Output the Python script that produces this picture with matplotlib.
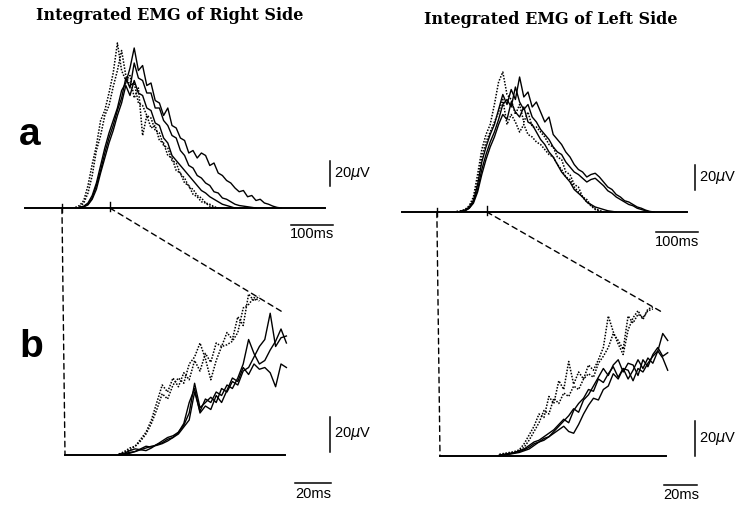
import numpy as np
import matplotlib
matplotlib.use('Agg')
import matplotlib.pyplot as plt
from matplotlib.patches import ConnectionPatch

# --- integrated EMG traces (time in ms, amplitude in microvolts) ---
# panel a: whole burst, sampled every 10 ms
A_STEP = 10
ar_dotted = [
    (120, [0.5, 2, 6, 18, 35, 50, 70, 78, 92, 108, 132, 110, 102, 106, 88, 96, 58, 74, 64, 66,
           54, 52, 42, 40, 30, 28, 20, 18, 11, 9, 5, 4, 1.5, 0.5, 0]),
    (130, [1, 4, 12, 26, 46, 58, 74, 82, 97, 110, 126, 106, 98, 100, 84, 82, 74, 72, 62, 60,
           50, 48, 38, 36, 27, 24, 17, 15, 10, 8, 4, 3, 1, 0]),
]
ar_solid = [
    (130, [0.5, 1.5, 4, 10, 20, 34, 48, 60, 70, 80, 94, 100, 112, 128, 110, 114, 98, 100, 86, 84,
           74, 80, 66, 64, 56, 54, 44, 46, 40, 44, 42, 34, 36, 28, 26, 22, 20, 16, 13, 14,
           9, 10, 6, 7, 4, 3, 1.5, 0.5, 0]),
    (130, [0.5, 1, 3, 8, 18, 30, 44, 56, 66, 78, 88, 104, 96, 116, 104, 102, 92, 92, 80, 80,
           70, 66, 58, 56, 46, 42, 34, 32, 26, 24, 20, 18, 13, 12, 8, 7, 5, 3, 2, 1.5, 1, 0.5, 0]),
    (130, [0.5, 1, 2.5, 7, 15, 28, 40, 52, 62, 74, 84, 98, 90, 102, 92, 90, 80, 78, 68, 66,
           56, 52, 42, 38, 34, 30, 26, 22, 18, 14, 12, 9, 7, 5, 3, 2, 1, 0]),
]
al_dotted = [
    (130, [0.5, 1, 2, 5, 12, 30, 50, 62, 70, 86, 104, 112, 94, 90, 78, 86, 72, 80, 68, 68,
           64, 60, 54, 52, 44, 42, 32, 30, 22, 20, 12, 10, 5, 3, 1, 0]),
    (140, [0.5, 1.5, 4, 10, 24, 44, 56, 64, 72, 80, 90, 70, 78, 72, 64, 70, 62, 60, 56, 54,
           50, 46, 44, 38, 34, 28, 26, 20, 16, 12, 8, 5, 2, 1, 0]),
]
al_solid = [
    (140, [0.5, 1.5, 4, 9, 22, 40, 52, 62, 70, 82, 94, 86, 98, 90, 108, 92, 96, 84, 88, 80,
           72, 76, 62, 58, 54, 48, 44, 38, 34, 32, 28, 30, 31, 28, 24, 20, 18, 14, 12, 9,
           8, 6, 4, 3, 1.5, 0.5, 0]),
    (140, [0.5, 1, 3, 8, 18, 34, 46, 56, 64, 74, 86, 90, 84, 100, 88, 82, 86, 76, 72, 66,
           62, 58, 52, 48, 46, 40, 36, 32, 30, 27, 24, 26, 27, 24, 21, 17, 15, 12, 10, 8,
           6, 5, 3, 2, 1, 0]),
    (140, [0.5, 1, 3, 7, 16, 30, 42, 52, 60, 70, 78, 74, 88, 80, 76, 84, 72, 70, 64, 58,
           54, 48, 44, 38, 32, 28, 24, 18, 15, 12, 8, 6, 4, 3, 2, 1, 0.5, 0]),
]

# panel b: expanded onset, sampled every 3 ms
B_STEP = 3
br_dotted = [
    (30, [0.5, 2, 4, 5, 9, 13, 20, 30, 40, 36, 44, 39, 47, 43, 54, 48, 58, 53, 64, 62,
          70, 66, 79, 74, 92, 88, 91]),
    (30, [0.5, 1.5, 3, 5, 8, 12, 18, 26, 35, 32, 40, 44, 41, 52, 56, 64, 55, 43, 54, 62,
          63, 65, 70, 84, 86, 90, 88]),
]
br_solid = [
    (30, [0.3, 0.8, 1.5, 2, 3.5, 5, 4.5, 6, 8, 10, 11, 13, 17, 24, 41, 27, 30, 33, 30, 38,
          36, 42, 40, 48, 50, 56, 62, 66, 81, 62, 67, 68]),
    (30, [0.3, 1, 2.5, 3.5, 3, 2.5, 4, 6, 7, 9, 10, 12, 16, 20, 36, 25, 32, 30, 36, 34,
          40, 38, 44, 52, 66, 58, 52, 54, 60, 65, 72, 64]),
    (30, [0.3, 0.5, 1, 2, 3, 4, 5, 5.5, 6.5, 8, 10, 13, 18, 30, 38, 24, 28, 26, 34, 30,
          37, 44, 42, 50, 46, 52, 49, 50, 47, 39, 52, 50]),
]
bl_dotted = [
    (36, [1, 1.5, 2, 2.5, 3.5, 7, 12, 17, 24, 22, 34, 30, 43, 38, 54, 41, 48, 44, 52, 49,
          55, 62, 80, 71, 64, 58, 72, 79, 83, 78, 84, 85]),
    (36, [0.5, 1, 1.5, 2, 3, 5, 9, 14, 19, 26, 24, 33, 30, 36, 34, 40, 38, 44, 47, 45,
          53, 57, 62, 70, 66, 61, 80, 76, 81, 79, 83, 84]),
]
bl_solid = [
    (36, [0.5, 1, 1.5, 2, 3, 4, 6, 8, 9, 11, 13, 15, 18, 21, 19, 26, 30, 33, 38, 37,
          44, 42, 47, 51, 45, 50, 44, 49, 55, 50, 56, 53, 60, 70, 66]),
    (36, [0.3, 0.8, 1.2, 1.8, 2.5, 3.5, 5, 7, 8, 10, 11, 13, 15, 17, 14, 13, 18, 24, 29, 33,
          32, 38, 40, 47, 44, 50, 49, 43, 50, 48, 53, 57, 60, 56, 49]),
    (36, [0.3, 0.6, 1, 1.5, 2, 3, 4, 6, 8, 9, 11, 14, 17, 20, 23, 27, 25, 32, 35, 40,
          45, 50, 46, 52, 55, 48, 53, 52, 46, 55, 51, 58, 62, 57, 59]),
]

W, H = 738, 507
fig = plt.figure(figsize=(W / 100, H / 100), dpi=100)


def panel(x0, y0, sx, sy, xlim, ylim):
    # place an axes so that data (0,0) lands on pixel (x0, y0)
    l = x0 + sx * xlim[0]
    r = x0 + sx * xlim[1]
    t = y0 - sy * ylim[1]
    b = y0 - sy * ylim[0]
    ax = fig.add_axes([l / W, 1 - b / H, (r - l) / W, (b - t) / H])
    ax.set_xlim(xlim)
    ax.set_ylim(ylim)
    ax.axis('off')
    return ax


ax_ar = panel(25, 208, 0.42, 1.25, (0, 800), (-20, 140))
ax_al = panel(402, 212, 0.42, 1.25, (0, 800), (-20, 140))
ax_br = panel(65, 455, 1.8, 1.75, (0, 160), (-20, 100))
ax_bl = panel(440, 456, 1.65, 1.75, (0, 170), (-20, 100))

dot = (0, (1, 1))
dash = (0, (4, 3))


def draw(ax, dotted, solid, step, base_end):
    ax.plot([0, base_end], [0, 0], color='black', lw=1.4, clip_on=False)
    for t0, vals in dotted:
        t = t0 + step * np.arange(len(vals))
        ax.plot(t, vals, color='black', lw=1.1, ls=dot, clip_on=False)
    for t0, vals in solid:
        t = t0 + step * np.arange(len(vals))
        ax.plot(t, vals, color='black', lw=1.0, clip_on=False)


draw(ax_ar, ar_dotted, ar_solid, A_STEP, 714)
draw(ax_al, al_dotted, al_solid, A_STEP, 679)
draw(ax_br, br_dotted, br_solid, B_STEP, 122)
draw(ax_bl, bl_dotted, bl_solid, B_STEP, 137)

# markers of the expanded window on the a traces
for ax, (t1, t2) in [(ax_ar, (88, 202)), (ax_al, (83, 202))]:
    ax.plot([t1, t1], [-3, 3], color='black', lw=1, clip_on=False)
    ax.plot([t2, t2], [-2, 5], color='black', lw=1, clip_on=False)

# dashed lines linking a to b
links = [(ax_ar, ax_br, (88, 0), (0, 0)), (ax_ar, ax_br, (202, 0), (122, 81)),
         (ax_al, ax_bl, (83, 0), (0, 0)), (ax_al, ax_bl, (202, 0), (135, 82))]
for axa, axb, pa, pb in links:
    con = ConnectionPatch(xyA=pa, coordsA=axa.transData, xyB=pb, coordsB=axb.transData,
                          color='black', lw=1.0, ls=dash)
    fig.add_artist(con)


def scalebars(ax, tbar, ybar, tlen, lab_t, vx, vy, vlen):
    ax.plot([tbar, tbar + tlen], [ybar, ybar], color='black', lw=1.1, clip_on=False)
    ax.text(tbar + tlen / 2, ybar - 2, lab_t, ha='center', va='top', fontsize=10.5,
            family='Liberation Sans')
    ax.plot([vx, vx], [vy, vy + vlen], color='black', lw=1.1, clip_on=False)
    ax.text(vx, vy + vlen / 2, ' 20$\\mu$V', ha='left', va='center', fontsize=10.5,
            family='Liberation Sans')


scalebars(ax_ar, 633, -13.6, 100, '100ms', 726, 18, 20)
scalebars(ax_al, 604, -16, 100, '100ms', 698, 18, 20)
scalebars(ax_br, 128, -16, 20, '20ms', 147, 2, 20)
scalebars(ax_bl, 136, -16.5, 20, '20ms', 154.5, 0, 20)

fig.text(170 / W, 1 - 16 / H, 'Integrated EMG of Right Side', ha='center', va='center',
         fontsize=11.5, fontweight='bold', family='DejaVu Serif')
fig.text(551 / W, 1 - 19 / H, 'Integrated EMG of Left Side', ha='center', va='center',
         fontsize=11.5, fontweight='bold', family='DejaVu Serif')
fig.text(30 / W, 1 - 135 / H, 'a', ha='center', va='center', fontsize=28,
         fontweight='bold', family='Liberation Sans')
fig.text(31 / W, 1 - 347 / H, 'b', ha='center', va='center', fontsize=28,
         fontweight='bold', family='Liberation Sans')

fig.savefig('out.png', dpi=100)
